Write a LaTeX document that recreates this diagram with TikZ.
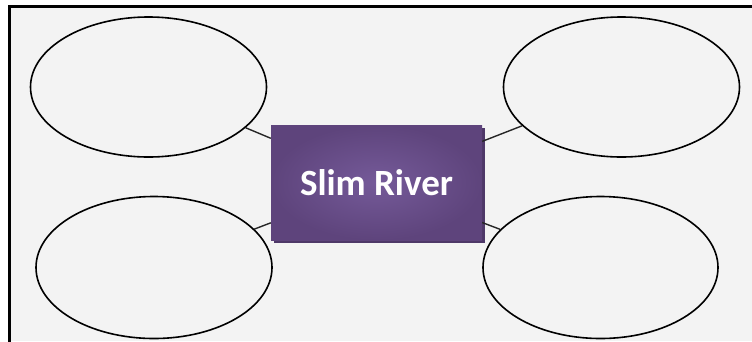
\documentclass[tikz,border=0pt]{standalone}
\usepackage{fontspec}
\newfontfamily\hubfont{Carlito}
\usetikzlibrary{shapes.geometric}
\definecolor{paper}{HTML}{F3F3F3}
\definecolor{plumlight}{HTML}{755A99}
\definecolor{plumdark}{HTML}{5E447C}
\definecolor{plumshadow}{HTML}{4E3868}
\tikzset{
  bubble/.style={draw=black, line width=1.6pt, ellipse, inner sep=0pt,
    minimum width=236pt, minimum height=140pt},
  hub/.style={rectangle, minimum width=211pt, minimum height=115pt, inner sep=0pt,
    shading=radial, inner color=plumlight, outer color=plumdark,
    text=white, font=\hubfont\bfseries\fontsize{37}{42}\selectfont},
  spoke/.style={draw=black!85, line width=1.4pt}
}
\begin{document}
\begin{tikzpicture}[x=1pt,y=-1pt]
  \useasboundingbox (0,0) rectangle (752,341);
  % page frame
  \fill[white] (0,0) rectangle (752,341);
  \fill[paper] (9,6) rectangle (752,341);
  \draw[line width=3pt] (9.5,345) -- (9.5,6.5) -- (760,6.5);

  % outer bubbles
  \node[bubble] (tl) at (148.5,87) {};
  \node[bubble, minimum height=142pt] (bl) at (154,267.5) {};
  \node[bubble] (tr) at (621.5,87) {};
  \node[bubble, minimum height=142pt, minimum width=235pt] (br) at (600.5,267.5) {};

  % central box shadow and box
  \fill[plumshadow] (274,128) rectangle (485,243);
  \node[hub] (c) at (376.5,182.5) {Slim River};

  % spokes from bubbles to the centre
  \draw[spoke] (tl) -- (c);
  \draw[spoke] (bl) -- (c);
  \draw[spoke] (tr) -- (c);
  \draw[spoke] (br) -- (c);
\end{tikzpicture}
\end{document}
